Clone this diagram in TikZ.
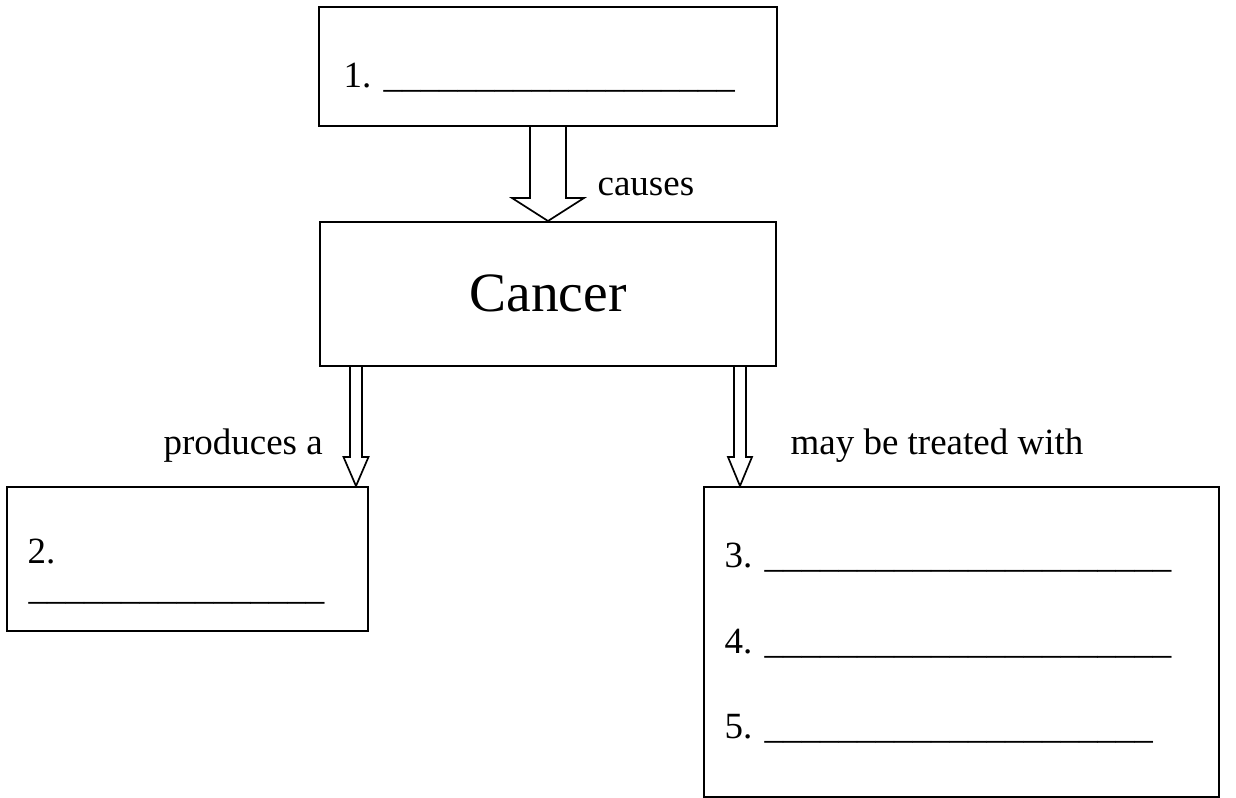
\documentclass[tikz,border=0pt]{standalone}
\usepackage{fontspec}
\setmainfont{Liberation Serif}
\usetikzlibrary{calc}
\newcommand\blockarrow[5]{%
  \draw[arrowline] let \p1=(#1), \p2=(#2) in
    (\x1-#3*0.3245pt,\y1) -- (\x1-#3*0.3245pt,\y2+#5*0.3245pt)
    -- (\x1-#4*0.3245pt,\y2+#5*0.3245pt) -- (\x1,\y2)
    -- (\x1+#4*0.3245pt,\y2+#5*0.3245pt) -- (\x1+#3*0.3245pt,\y2+#5*0.3245pt)
    -- (\x1+#3*0.3245pt,\y1);}
\begin{document}
\begin{tikzpicture}[x=0.3245pt,y=-0.3245pt,
  box/.style={draw,line width=0.65pt,inner sep=0pt,fill=white},
  arrowline/.style={draw,line width=0.55pt,line join=miter},
  txt/.style={anchor=base west,inner sep=0pt,font=\fontsize{12}{14}\selectfont},
  big/.style={inner sep=0pt,font=\fontsize{18}{21}\selectfont}]
\useasboundingbox (0,0) rectangle (1236,798);
\fill[white] (0,0) rectangle (1236,798);
% boxes
\node[box,minimum width={458*0.3245pt},minimum height={119*0.3245pt}] (b1) at (548,66.5) {};
\node[box,minimum width={456*0.3245pt},minimum height={144*0.3245pt}] (cancer) at (548,294) {};
\node[box,minimum width={361*0.3245pt},minimum height={144*0.3245pt}] (b2) at (187.5,559) {};
\node[box,minimum width={515*0.3245pt},minimum height={310*0.3245pt}] (b3) at (961.5,642) {};
% texts
\node[txt] (t1) at (343,87) {1. \_\_\_\_\_\_\_\_\_\_\_\_\_\_\_\_\_\_\_};
\node[big] (tc) at (548,293) {Cancer};
\node[txt] (tcause) at (597,195) {causes};
\node[txt] (tprod) at (163,454) {produces a};
\node[txt] (ttreat) at (790,454) {may be treated with};
\node[txt] (t2) at (27,563) {2.};
\node[txt] (t2l) at (28,599) {\_\_\_\_\_\_\_\_\_\_\_\_\_\_\_\_};
\node[txt] (t3) at (724,567) {3. \_\_\_\_\_\_\_\_\_\_\_\_\_\_\_\_\_\_\_\_\_\_};
\node[txt] (t4) at (724,653) {4. \_\_\_\_\_\_\_\_\_\_\_\_\_\_\_\_\_\_\_\_\_\_};
\node[txt] (t5) at (724,738) {5. \_\_\_\_\_\_\_\_\_\_\_\_\_\_\_\_\_\_\_\_\_};
% arrows
\coordinate (la) at (356,0);
\coordinate (ra) at (740,0);
\blockarrow{b1.south}{cancer.north}{18}{36}{23}
\blockarrow{cancer.south -| la}{b2.north -| la}{6}{12.5}{29}
\blockarrow{cancer.south -| ra}{b3.north -| ra}{6}{12}{29}
\end{tikzpicture}
\end{document}
